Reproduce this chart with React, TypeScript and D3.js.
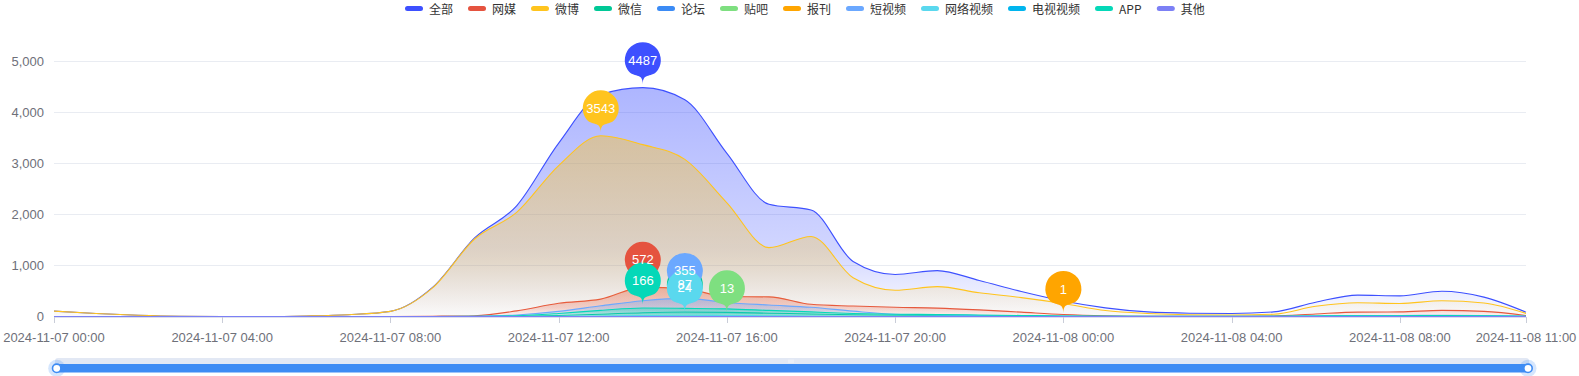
import React from 'react';
import * as d3 from 'd3';

const W = 1579;
const H = 376;

const startTime = new Date(2024, 10, 7, 0, 0);
const endTime = new Date(2024, 10, 8, 11, 0);
const times: Date[] = d3.range(36).map((h) => d3.timeHour.offset(startTime, h));
const tickTimes: Date[] = [0, 4, 8, 12, 16, 20, 24, 28, 32, 35].map((h) => d3.timeHour.offset(startTime, h));
const yTicks = [0, 1000, 2000, 3000, 4000, 5000];

const seriesNames = ['全部', '网媒', '微博', '微信', '论坛', '贴吧', '报刊', '短视频', '网络视频', '电视视频', 'APP', '其他'];
const seriesColors = ['#3D50FF', '#E5533F', '#FFC41E', '#00C896', '#3B8BF5', '#7EDF80', '#FFA500', '#6BA8FF', '#5AD8EE', '#00B5EE', '#05D8B8', '#7C80F5'];

const allValues = [105, 60, 25, 5, 0, 0, 10, 35, 100, 570, 1540, 2170, 3400, 4350, 4487, 4250, 3200, 2200, 2090, 1080, 825, 900, 706, 490, 305, 170, 90, 65, 60, 90, 280, 420, 405, 495, 380, 85];
const webMediaValues = [0, 0, 0, 0, 0, 0, 0, 0, 0, 5, 15, 110, 260, 340, 572, 545, 390, 385, 240, 205, 180, 165, 130, 85, 40, 15, 5, 5, 5, 10, 50, 85, 90, 120, 100, 20];
const weiboValues = [105, 60, 25, 5, 0, 0, 10, 35, 100, 560, 1520, 2040, 2960, 3543, 3370, 3080, 2230, 1350, 1570, 760, 516, 585, 465, 370, 255, 118, 60, 35, 30, 45, 200, 270, 255, 310, 265, 60];
const wechatValues = [0, 0, 0, 0, 0, 0, 0, 0, 0, 0, 1, 5, 20, 45, 75, 87, 80, 65, 50, 35, 25, 20, 15, 10, 5, 3, 1, 1, 1, 2, 5, 8, 8, 10, 8, 2];
const forumValues = [0, 0, 0, 0, 0, 0, 0, 0, 0, 0, 0, 0, 0, 0, 0, 0, 0, 0, 0, 0, 0, 0, 0, 0, 0, 0, 0, 0, 0, 0, 0, 0, 0, 0, 0, 0];
const tiebaValues = [0, 0, 0, 0, 0, 0, 0, 0, 0, 0, 0, 0, 0, 2, 5, 9, 13, 10, 6, 3, 2, 1, 0, 0, 0, 0, 0, 0, 0, 0, 0, 0, 0, 0, 0, 0];
const newspaperValues = [0, 0, 0, 0, 0, 0, 0, 0, 0, 0, 0, 0, 0, 0, 0, 0, 0, 0, 0, 0, 0, 0, 0, 0, 1, 0, 0, 0, 0, 0, 0, 0, 0, 0, 0, 0];
const shortVideoValues = [0, 0, 0, 0, 0, 0, 0, 0, 0, 0, 5, 30, 100, 210, 310, 355, 275, 225, 180, 105, 45, 30, 20, 12, 6, 3, 2, 2, 2, 3, 10, 20, 20, 25, 20, 5];
const netVideoValues = [0, 0, 0, 0, 0, 0, 0, 0, 0, 0, 0, 0, 3, 10, 18, 24, 20, 15, 10, 6, 4, 3, 2, 1, 0, 0, 0, 0, 0, 0, 2, 2, 2, 2, 2, 0];
const tvVideoValues = [0, 0, 0, 0, 0, 0, 0, 0, 0, 0, 0, 0, 0, 0, 0, 0, 0, 0, 0, 0, 0, 0, 0, 0, 0, 0, 0, 0, 0, 0, 0, 0, 0, 0, 0, 0];
const appValues = [0, 0, 0, 0, 0, 0, 0, 0, 0, 0, 2, 15, 60, 120, 166, 160, 150, 120, 90, 60, 45, 40, 30, 20, 10, 5, 3, 2, 2, 3, 10, 15, 15, 20, 15, 3];
const otherValues = [0, 0, 0, 0, 0, 0, 0, 0, 0, 0, 0, 0, 0, 0, 0, 0, 0, 0, 0, 0, 0, 0, 0, 0, 0, 0, 0, 0, 0, 0, 0, 0, 0, 0, 0, 0];

const seriesValues = [allValues, webMediaValues, weiboValues, wechatValues, forumValues, tiebaValues, newspaperValues, shortVideoValues, netVideoValues, tvVideoValues, appValues, otherValues];

const FONT = "'Liberation Sans', 'Noto Sans CJK SC', sans-serif";
const CJK = "'Noto Sans CJK SC', 'Liberation Sans', sans-serif";

function pinPath(x: number, py: number): { d: string; cy: number } {
  const r = 18;
  const tipY = py - 3.5;
  const centerAboveTip = 24;
  const u = (centerAboveTip + Math.sqrt(centerAboveTip * centerAboveTip + 4 * r * r)) / 2;
  const dy = (r * r) / u;
  const cy = tipY - u + dy;
  const angle = Math.asin(dy / r);
  const dx = Math.cos(angle) * r;
  const tanX = Math.sin(angle);
  const tanY = Math.cos(angle);
  const cpLen = r * 0.6;
  const cpLen2 = r * 0.7;
  const d =
    `M${x - dx},${cy + dy}` +
    `A${r},${r} 0 1 1 ${x + dx},${cy + dy}` +
    `C${x + dx - tanX * cpLen},${cy + dy + tanY * cpLen} ${x},${tipY - cpLen2} ${x},${tipY}` +
    `C${x},${tipY - cpLen2} ${x - dx + tanX * cpLen},${cy + dy + tanY * cpLen} ${x - dx},${cy + dy}Z`;
  return { d, cy };
}

export default function App() {
  const x = d3.scaleTime().domain([startTime, endTime]).range([54, 1526]);
  const y = d3.scaleLinear().domain([0, 5000]).range([316.5, 61.5]);
  const fmt = d3.timeFormat('%Y-%m-%d %H:%M');

  const area = d3
    .area<number>()
    .x((_, i) => x(times[i]))
    .y0(y(0))
    .y1((v) => y(v))
    .curve(d3.curveMonotoneX);
  const line = d3
    .line<number>()
    .x((_, i) => x(times[i]))
    .y((v) => y(v))
    .curve(d3.curveMonotoneX);

  const legendStart = 405;
  let lx = legendStart;
  const legendItems = seriesNames.map((name, i) => {
    const tw = /^[A-Za-z]+$/.test(name) ? name.length * 7.6 : name.length * 12;
    const item = { name, color: seriesColors[i], x: lx, tw };
    lx += 18 + 6 + tw + 15;
    return item;
  });

  const pins = seriesValues
    .map((vals, i) => {
      const mi = d3.maxIndex(vals);
      const mv = vals[mi];
      if (!(mv > 0)) return null;
      const px = x(times[mi]);
      const py = y(mv);
      const p = pinPath(px, py);
      return { i, mv, px, py, ...p };
    })
    .filter(Boolean) as { i: number; mv: number; px: number; py: number; d: string; cy: number }[];

  return (
    <svg
      width={W}
      height={H}
      style={{ position: 'fixed', left: 0, top: 0, background: '#fff' }}
      xmlns="http://www.w3.org/2000/svg"
    >
      <defs>
        {seriesColors.map((c, i) => (
          <linearGradient key={i} id={`grad${i}`} x1="0" y1="0" x2="0" y2="1">
            <stop offset="0" stopColor={c} stopOpacity={0.42} />
            <stop offset="0.7" stopColor={c} stopOpacity={0.24} />
            <stop offset="1" stopColor={c} stopOpacity={0.02} />
          </linearGradient>
        ))}
      </defs>

      <g>
        {legendItems.map((it) => (
          <g key={it.name}>
            <rect x={it.x} y={6} width={18} height={5} rx={2.5} fill={it.color} />
            <text x={it.x + 24} y={8.5} dominantBaseline="central" fontFamily={CJK} fontSize={12} fill="#333">
              {it.name}
            </text>
          </g>
        ))}
      </g>

      <g>
        {yTicks.map((t) => (
          <g key={t}>
            {t > 0 && <line x1={54} x2={1526} y1={y(t)} y2={y(t)} stroke="#E9ECF2" strokeWidth={1} />}
            <text x={44} y={y(t) + 4.6} textAnchor="end" fontFamily={FONT} fontSize={13} fill="#6E7079">
              {d3.format(',')(t)}
            </text>
          </g>
        ))}
      </g>

      <line x1={54} x2={1526} y1={y(0) + 1} y2={y(0) + 1} stroke="#DCDFEE" strokeWidth={1} />

      {seriesValues.map((vals, i) => (
        <g key={seriesNames[i]}>
          <path d={area(vals) || ''} fill={`url(#grad${i})`} />
          <path d={line(vals) || ''} fill="none" stroke={seriesColors[i]} strokeWidth={1.1} />
        </g>
      ))}

      <g>
        {tickTimes.map((t) => (
          <g key={t.getTime()}>
            <line x1={Math.round(x(t)) + 0.5} x2={Math.round(x(t)) + 0.5} y1={317} y2={323} stroke="#C9CDD8" />
            <text x={x(t)} y={341.5} textAnchor="middle" fontFamily={FONT} fontSize={13} fill="#6E7079">
              {fmt(t)}
            </text>
          </g>
        ))}
      </g>

      <g>
        {pins.map((p) => (
          <path key={`pin${p.i}`} d={p.d} fill={seriesColors[p.i]} />
        ))}
        {pins.map((p) => (
          <text
            key={`pl${p.i}`}
            x={p.px}
            y={p.cy + 4.6}
            textAnchor="middle"
            fontFamily={FONT}
            fontSize={13}
            fill="#fff"
          >
            {p.mv}
          </text>
        ))}
      </g>

      <g>
        <rect x={55} y={358} width={1474} height={14} rx={3} fill="#E2E8F4" />
        <rect x={x(startTime) + 2.7} y={364} width={x(endTime) - x(startTime)} height={8.5} fill="#3E8CF4" />
        <g stroke="#fff" strokeOpacity={0.8} strokeWidth={0.8}>
          <line x1={789} x2={789} y1={359.5} y2={363} />
          <line x1={791} x2={791} y1={359.5} y2={363} />
          <line x1={793} x2={793} y1={359.5} y2={363} />
        </g>
        {[x(startTime) + 2.7, x(endTime) + 2].map((hx, k) => (
          <g key={k}>
            <circle cx={hx} cy={368.3} r={8.5} fill="#3E8CF4" fillOpacity={0.22} />
            <circle cx={hx} cy={368.3} r={4.2} fill="#fff" stroke="#3E8CF4" strokeWidth={1.6} />
          </g>
        ))}
      </g>
    </svg>
  );
}
